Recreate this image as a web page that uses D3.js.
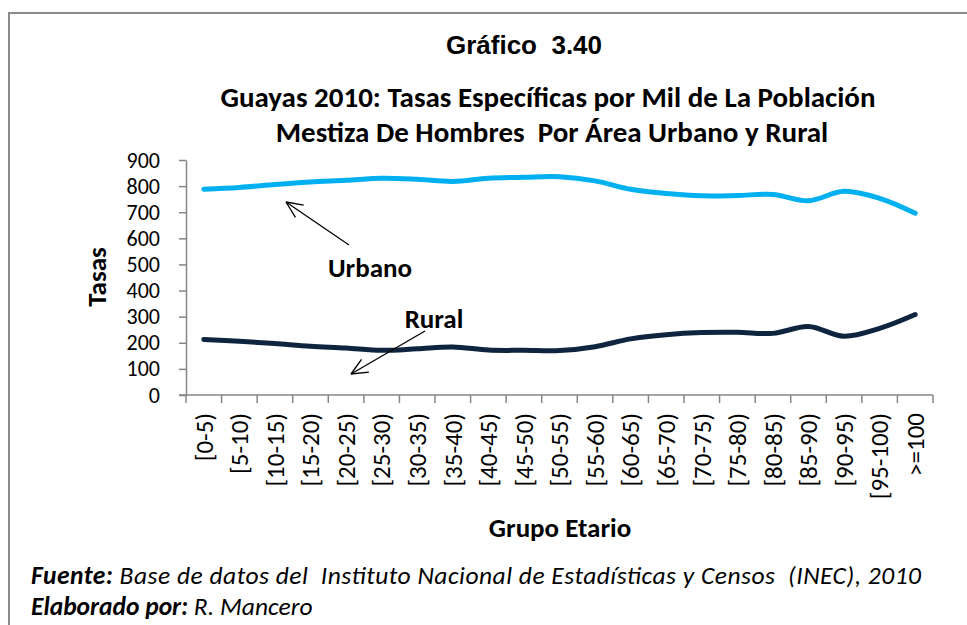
<!DOCTYPE html>
<html>
<head>
<meta charset="utf-8">
<script src="https://cdn.jsdelivr.net/npm/d3@7"></script>
<style>
  html, body { margin: 0; padding: 0; background: #fff; }
  svg { display: block; }
  text { font-family: Carlito, Calibri, Lato, "Open Sans", sans-serif; fill: #000; white-space: pre; }
</style>
</head>
<body>
<svg id="chart" width="967" height="625"></svg>
<script>
// Age groups (x axis)
const categories = ["[0-5)", "[5-10)", "[10-15)", "[15-20)", "[20-25)", "[25-30)", "[30-35)",
  "[35-40)", "[40-45)", "[45-50)", "[50-55)", "[55-60)", "[60-65)", "[65-70)", "[70-75)",
  "[75-80)", "[80-85)", "[85-90)", "[90-95)", "[95-100)", ">=100"];

// Specific rates per thousand, urban area
const urbano = [788, 795, 806, 816, 822, 830, 826, 818, 830, 834, 836, 820, 788, 772, 763,
  764, 768, 744, 780, 753, 696];

// Specific rates per thousand, rural area
const rural = [213, 206, 197, 187, 180, 171, 177, 184, 172, 171, 170, 185, 215, 231, 239,
  240, 236, 262, 225, 255, 308];

// Y axis tick values
const yTicks = [0, 100, 200, 300, 400, 500, 600, 700, 800, 900];

const svg = d3.select("#chart");
const W = 967, H = 625;
const plot = { left: 186, right: 933, top: 160, bottom: 395 };

// Outer frame (top and left edges)
svg.append("path")
  .attr("d", `M9,${H} L9,13 L${W},13`)
  .attr("fill", "none")
  .attr("stroke", "#8c8c8c")
  .attr("stroke-width", 2);

// Titles
svg.append("text")
  .attr("x", 524).attr("y", 54)
  .attr("text-anchor", "middle")
  .style("font-family", "'Liberation Sans', Arial, sans-serif")
  .style("font-weight", "bold").style("font-size", "26px")
  .text("Gráfico  3.40");

svg.append("text")
  .attr("x", 548).attr("y", 107)
  .attr("text-anchor", "middle")
  .style("font-weight", "bold").style("font-size", "29px")
  .text("Guayas 2010: Tasas Específicas por Mil de La Población");

svg.append("text")
  .attr("x", 552).attr("y", 142)
  .attr("text-anchor", "middle")
  .style("font-weight", "bold").style("font-size", "29px")
  .text("Mestiza De Hombres  Por Área Urbano y Rural");

// Scales
const x = d3.scaleBand().domain(categories).range([plot.left, plot.right]).padding(0);
const cx = c => x(c) + x.bandwidth() / 2;
const y = d3.scaleLinear().domain([0, 900]).range([plot.bottom, plot.top]);

const axisColor = "#868686";

// Y axis
const yAxis = svg.append("g")
  .attr("transform", `translate(${plot.left},0)`)
  .call(d3.axisLeft(y).tickValues(yTicks).tickSize(7).tickPadding(19).tickSizeOuter(0));
yAxis.select(".domain").attr("stroke", axisColor).attr("stroke-width", 1.5);
yAxis.selectAll(".tick line").attr("stroke", axisColor).attr("stroke-width", 1.5);
yAxis.selectAll(".tick text")
  .style("font-family", "Carlito, Calibri, Lato, sans-serif")
  .style("font-size", "22px").attr("fill", "#000");

// X axis: line with ticks at band boundaries
const xAxis = svg.append("g");
xAxis.append("line")
  .attr("x1", plot.left - 7).attr("x2", plot.right)
  .attr("y1", plot.bottom).attr("y2", plot.bottom)
  .attr("stroke", axisColor).attr("stroke-width", 1.5);
const edges = categories.map(c => x(c)).concat([plot.right]);
xAxis.selectAll("line.tick")
  .data(edges)
  .join("line")
  .attr("class", "tick")
  .attr("x1", d => d).attr("x2", d => d)
  .attr("y1", plot.bottom).attr("y2", plot.bottom + 8)
  .attr("stroke", axisColor).attr("stroke-width", 1.5);
xAxis.selectAll("text.cat")
  .data(categories)
  .join("text")
  .attr("class", "cat")
  .attr("transform", d => `translate(${cx(d)},${plot.bottom + 18}) rotate(-90)`)
  .attr("dy", "0.35em")
  .attr("text-anchor", "end")
  .style("font-size", "25px")
  .text(d => d);

// Axis titles
svg.append("text")
  .attr("transform", `translate(106,277) rotate(-90)`)
  .attr("text-anchor", "middle")
  .style("font-weight", "bold").style("font-size", "27px")
  .text("Tasas");

svg.append("text")
  .attr("x", 560).attr("y", 537)
  .attr("text-anchor", "middle")
  .style("font-weight", "bold").style("font-size", "27px")
  .text("Grupo Etario");

// Smoothed series lines
const line = d3.line()
  .x((d, i) => cx(categories[i]))
  .y(d => y(d))
  .curve(d3.curveCatmullRom.alpha(0.5));

svg.append("path")
  .datum(urbano)
  .attr("d", line)
  .attr("fill", "none")
  .attr("stroke", "#00B0F0")
  .attr("stroke-width", 5)
  .attr("stroke-linecap", "round")
  .attr("stroke-linejoin", "round");

svg.append("path")
  .datum(rural)
  .attr("d", line)
  .attr("fill", "none")
  .attr("stroke", "#0F243E")
  .attr("stroke-width", 5)
  .attr("stroke-linecap", "round")
  .attr("stroke-linejoin", "round");

// Series call-outs with open arrowheads
function arrow(x1, y1, x2, y2) {
  const g = svg.append("g").attr("stroke", "#000").attr("stroke-width", 1.3).attr("fill", "none");
  g.append("line").attr("x1", x1).attr("y1", y1).attr("x2", x2).attr("y2", y2);
  const ang = Math.atan2(y1 - y2, x1 - x2);
  const len = 18, spread = 0.42;
  [ang - spread, ang + spread].forEach(a => {
    g.append("line")
      .attr("x1", x2).attr("y1", y2)
      .attr("x2", x2 + len * Math.cos(a)).attr("y2", y2 + len * Math.sin(a));
  });
}
arrow(349, 245, 286, 202);
arrow(425, 331, 351, 374);

svg.append("text")
  .attr("x", 370).attr("y", 277)
  .attr("text-anchor", "middle")
  .style("font-weight", "bold").style("font-size", "27px")
  .text("Urbano");

svg.append("text")
  .attr("x", 434).attr("y", 328)
  .attr("text-anchor", "middle")
  .style("font-weight", "bold").style("font-size", "27px")
  .text("Rural");

// Source notes
const f1 = svg.append("text").attr("x", 31).attr("y", 584)
  .attr("textLength", 890).attr("lengthAdjust", "spacing")
  .style("font-size", "25.5px").style("font-style", "italic");
f1.append("tspan").style("font-weight", "bold").text("Fuente:");
f1.append("tspan").text(" Base de datos del  Instituto Nacional de Estadísticas y Censos  (INEC), 2010");

const f2 = svg.append("text").attr("x", 31).attr("y", 615)
  .style("font-size", "25.5px").style("font-style", "italic");
f2.append("tspan").style("font-weight", "bold").text("Elaborado por:");
f2.append("tspan").text(" R. Mancero");
</script>
</body>
</html>
